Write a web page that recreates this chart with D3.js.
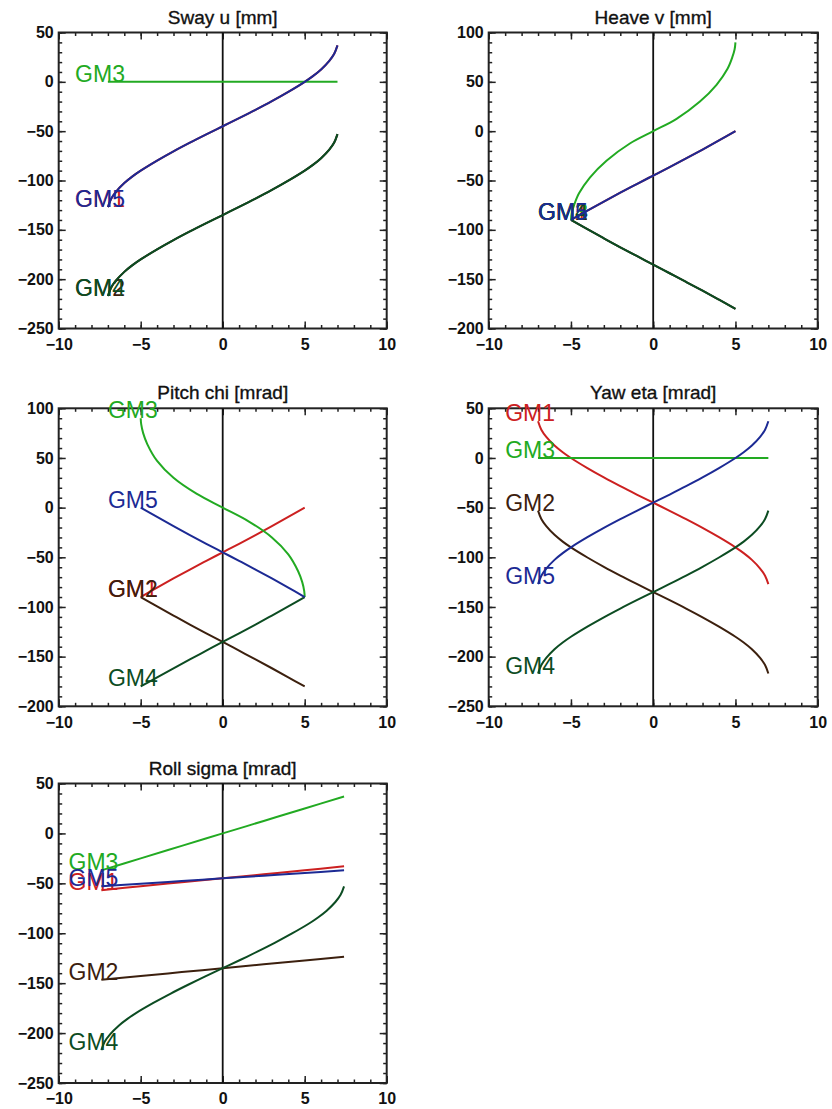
<!DOCTYPE html>
<html>
<head>
<meta charset="utf-8">
<script src="https://cdn.jsdelivr.net/npm/d3@7"></script>
<style>
  body { margin: 0; background: #fff; }
  .tick text { font-family: "Liberation Sans", Arial, sans-serif; font-weight: bold; font-size: 16px; fill: #111; }
  .tick line { stroke: #222; stroke-width: 1.5; }
</style>
</head>
<body>
<svg id="chart" width="832" height="1109"></svg>
<script>
var gmNames = ["GM1", "GM2", "GM3", "GM4", "GM5"];
var gmColors = ["#cc2020", "#3c200e", "#22aa22", "#0c4c22", "#1c2a94"];
var titles = ["Sway u [mm]", "Heave v [mm]", "Pitch chi [mrad]", "Yaw eta [mrad]", "Roll sigma [mrad]"];
var xDomain = [-10, 10];
var xMajor = [-10, -5, 0, 5, 10];
var yDomains = [[-250, 50], [-200, 100], [-200, 100], [-250, 50], [-250, 50]];

// Sway u
var swayX   = [-7, -6.8, -6.5, -6, -5.5, -5, -4, -3, -2, -1, 0, 1, 2, 3, 4, 5, 5.5, 6, 6.5, 6.8, 7];
var swayGM1 = [-127, -118.5, -111.3, -102.6, -95.8, -90, -79.8, -70.4, -61.6, -53.2, -45, -36.8, -28.4, -19.6, -10.2, 0, 5.8, 12.6, 21.3, 28.5, 37];
var swayGM2 = [-217, -208.5, -201.3, -192.6, -185.8, -180, -169.8, -160.4, -151.6, -143.2, -135, -126.8, -118.4, -109.6, -100.2, -90, -84.2, -77.4, -68.7, -61.5, -53];
var swayGM3 = [0, 0, 0, 0, 0, 0, 0, 0, 0, 0, 0, 0, 0, 0, 0, 0, 0, 0, 0, 0, 0];
var swayGM4 = [-217, -208.5, -201.3, -192.6, -185.8, -180, -169.8, -160.4, -151.6, -143.2, -135, -126.8, -118.4, -109.6, -100.2, -90, -84.2, -77.4, -68.7, -61.5, -53];
var swayGM5 = [-127, -118.5, -111.3, -102.6, -95.8, -90, -79.8, -70.4, -61.6, -53.2, -45, -36.8, -28.4, -19.6, -10.2, 0, 5.8, 12.6, 21.3, 28.5, 37];

// Heave v
var heaveX    = [-5, -4, -3, -2, -1, 0, 1, 2, 3, 4, 5];
var heaveGM1  = [-90, -80.5, -71.3, -62.3, -53.6, -45, -36.4, -27.6, -18.6, -9.4, 0];
var heaveGM2  = [-90, -99.4, -108.6, -117.7, -126.5, -135.2, -144, -152.8, -161.7, -170.8, -180];
var heaveGM3X = [-5, -4.95, -4.81, -4.51, -3.85, -2.84, -1.42, 0, 1.42, 2.84, 3.85, 4.51, 4.81, 4.95, 5];
var heaveGM3  = [-90, -83, -75, -63, -47, -30, -12.5, 0, 12.5, 30, 47, 63, 75, 83, 90];
var heaveGM4  = [-90, -99.4, -108.6, -117.7, -126.5, -135.2, -144, -152.8, -161.7, -170.8, -180];
var heaveGM5  = [-90, -80.5, -71.3, -62.3, -53.6, -45, -36.4, -27.6, -18.6, -9.4, 0];

// Pitch chi
var pitchX    = [-5, -4, -3, -2, -1, 0, 1, 2, 3, 4, 5];
var pitchGM1  = [-90, -80.5, -71.3, -62.3, -53.6, -45, -36.4, -27.6, -18.6, -9.4, 0];
var pitchGM2  = [-90, -99.4, -108.6, -117.7, -126.5, -135.2, -144, -152.8, -161.7, -170.8, -180];
var pitchGM3X = [-5, -4.97, -4.85, -4.6, -4.0, -3.0, -1.6, 0, 1.6, 3.0, 4.0, 4.6, 4.85, 4.97, 5];
var pitchGM3  = [90, 84, 75, 64, 47, 30, 14, 0, -14, -30, -47, -64, -75, -84, -90];
var pitchGM4  = [-180, -170.8, -161.7, -152.8, -144, -135.2, -126.5, -117.7, -108.6, -99.4, -90];
var pitchGM5  = [0, -9.4, -18.6, -27.6, -36.4, -45, -53.6, -62.3, -71.3, -80.5, -90];

// Yaw eta
var yawX   = [-7, -6.8, -6.5, -6, -5.5, -5, -4, -3, -2, -1, 0, 1, 2, 3, 4, 5, 5.5, 6, 6.5, 6.8, 7];
var yawGM1 = [37, 28.5, 21.3, 12.6, 5.8, 0, -10.2, -19.6, -28.4, -36.8, -45, -53.2, -61.6, -70.4, -79.8, -90, -95.8, -102.6, -111.3, -118.5, -127];
var yawGM2 = [-53, -61.5, -68.7, -77.4, -84.2, -90, -100.2, -109.6, -118.4, -126.8, -135, -143.2, -151.6, -160.4, -169.8, -180, -185.8, -192.6, -201.3, -208.5, -217];
var yawGM3 = [0, 0, 0, 0, 0, 0, 0, 0, 0, 0, 0, 0, 0, 0, 0, 0, 0, 0, 0, 0, 0];
var yawGM4 = [-217, -208.5, -201.3, -192.6, -185.8, -180, -169.8, -160.4, -151.6, -143.2, -135, -126.8, -118.4, -109.6, -100.2, -90, -84.2, -77.4, -68.7, -61.5, -53];
var yawGM5 = [-127, -118.5, -111.3, -102.6, -95.8, -90, -79.8, -70.4, -61.6, -53.2, -45, -36.8, -28.4, -19.6, -10.2, 0, 5.8, 12.6, 21.3, 28.5, 37];

// Roll sigma
var rollX    = [-7.4, -5, -2.5, 0, 2.5, 5, 7.4];
var rollGM1  = [-57, -52.9, -48.9, -45, -41, -37, -33];
var rollGM2  = [-146.5, -142.8, -138.9, -135, -131.1, -127.2, -123.5];
var rollGM3  = [-37, -25, -12.5, 0, 12.5, 25, 37];
var rollGM4X = [-7.4, -7.19, -6.87, -6.34, -5.81, -5.29, -4.23, -3.17, -2.11, -1.06, 0, 1.06, 2.11, 3.17, 4.23, 5.29, 5.81, 6.34, 6.87, 7.19, 7.4];
var rollGM4  = [-217, -208.5, -201.3, -192.6, -185.8, -180, -169.8, -160.4, -151.6, -143.2, -135, -126.8, -118.4, -109.6, -100.2, -90, -84.2, -77.4, -68.7, -61.5, -53];
var rollGM5  = [-53, -50.4, -47.7, -45, -42.3, -39.6, -37];

var panelSeries = [
  [[swayX, swayGM1], [swayX, swayGM2], [swayX, swayGM3], [swayX, swayGM4], [swayX, swayGM5]],
  [[heaveX, heaveGM1], [heaveX, heaveGM2], [heaveGM3X, heaveGM3], [heaveX, heaveGM4], [heaveX, heaveGM5]],
  [[pitchX, pitchGM1], [pitchX, pitchGM2], [pitchGM3X, pitchGM3], [pitchX, pitchGM4], [pitchX, pitchGM5]],
  [[yawX, yawGM1], [yawX, yawGM2], [yawX, yawGM3], [yawX, yawGM4], [yawX, yawGM5]],
  [[rollX, rollGM1], [rollX, rollGM2], [rollX, rollGM3], [rollGM4X, rollGM4], [rollX, rollGM5]]
];

// plot boxes (pixels)
var frames = [
  {l: 58.7, t: 32.5, w: 328, h: 296},
  {l: 488.7, t: 32.5, w: 329, h: 296},
  {l: 58.7, t: 408.3, w: 328, h: 298},
  {l: 488.7, t: 408.3, w: 329, h: 298},
  {l: 58.7, t: 783.5, w: 328, h: 299.5}
];
var labelShift = 2; // label sits 2 x-units left of a curve's first point

var svg = d3.select("#chart");

frames.forEach(function(f, p) {
  var g = svg.append("g").attr("transform", "translate(" + f.l + "," + f.t + ")");
  var x = d3.scaleLinear().domain(xDomain).range([0, f.w]);
  var y = d3.scaleLinear().domain(yDomains[p]).range([f.h, 0]);
  var yMajor = d3.range(yDomains[p][0], yDomains[p][1] + 1, 50);
  var yMinor = d3.range(yDomains[p][0], yDomains[p][1] + 1, 10);
  var xMinor = d3.range(xDomain[0], xDomain[1] + 1, 1);

  // ticks, all pointing inward
  g.append("g").attr("transform", "translate(0," + f.h + ")")
    .call(d3.axisBottom(x).tickValues(xMajor).tickSize(-7).tickSizeOuter(0).tickPadding(10));
  g.append("g").attr("transform", "translate(0," + f.h + ")")
    .call(d3.axisBottom(x).tickValues(xMinor).tickSize(-3.5).tickSizeOuter(0).tickFormat(""));
  g.append("g")
    .call(d3.axisTop(x).tickValues(xMajor).tickSize(-7).tickSizeOuter(0).tickFormat(""));
  g.append("g")
    .call(d3.axisTop(x).tickValues(xMinor).tickSize(-3.5).tickSizeOuter(0).tickFormat(""));
  g.append("g")
    .call(d3.axisLeft(y).tickValues(yMajor).tickSize(-7).tickSizeOuter(0).tickPadding(5));
  g.append("g")
    .call(d3.axisLeft(y).tickValues(yMinor).tickSize(-3.5).tickSizeOuter(0).tickFormat(""));
  g.append("g").attr("transform", "translate(" + f.w + ",0)")
    .call(d3.axisRight(y).tickValues(yMajor).tickSize(-7).tickSizeOuter(0).tickFormat(""));
  g.append("g").attr("transform", "translate(" + f.w + ",0)")
    .call(d3.axisRight(y).tickValues(yMinor).tickSize(-3.5).tickSizeOuter(0).tickFormat(""));
  g.selectAll(".domain").remove();

  g.append("rect")
    .attr("width", f.w).attr("height", f.h)
    .attr("fill", "none").attr("stroke", "#222").attr("stroke-width", 2);

  g.append("text")
    .attr("x", f.w / 2).attr("y", -9)
    .attr("text-anchor", "middle")
    .attr("font-family", "Liberation Sans, Arial, sans-serif")
    .attr("font-size", 19)
    .attr("fill", "#111")
    .attr("stroke", "#111").attr("stroke-width", 0.35)
    .text(titles[p]);

  // zero line
  g.append("line")
    .attr("x1", x(0)).attr("x2", x(0))
    .attr("y1", 0).attr("y2", f.h)
    .attr("stroke", "#111").attr("stroke-width", 1.8);

  var line = d3.line()
    .x(function(d) { return x(d[0]); })
    .y(function(d) { return y(d[1]); })
    .curve(d3.curveCatmullRom.alpha(0.5));

  panelSeries[p].forEach(function(s, i) {
    var pts = d3.zip(s[0], s[1]);
    g.append("path")
      .attr("fill", "none")
      .attr("stroke", gmColors[i])
      .attr("stroke-width", 2)
      .attr("stroke-linejoin", "round")
      .attr("d", line(pts));
    g.append("text")
      .attr("x", x(s[0][0] - labelShift))
      .attr("y", y(s[1][0]))
      .attr("font-family", "Liberation Sans, Arial, sans-serif")
      .attr("font-size", 23)
      .attr("fill", gmColors[i])
      .text(gmNames[i]);
  });
});
</script>
</body>
</html>
